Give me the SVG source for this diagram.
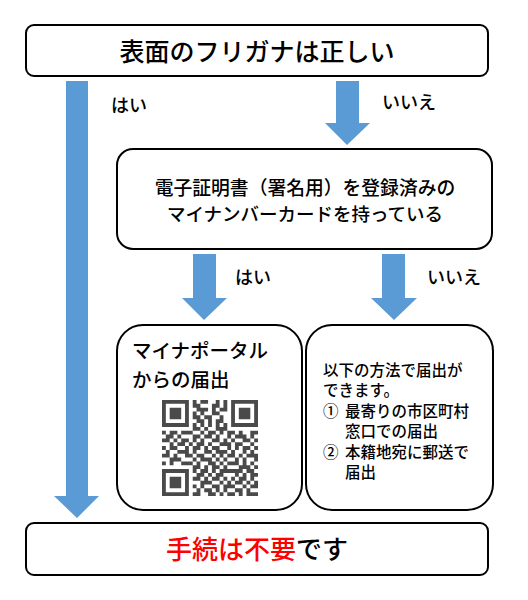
<svg xmlns="http://www.w3.org/2000/svg" width="528" height="600" viewBox="0 0 528 600">
<style>
.box{fill:#fff;stroke:#000;stroke-width:2}
.t{font-family:"Noto Sans CJK JP","Noto Sans",sans-serif;fill:#000;font-weight:500}
.arrow{fill:#5B9BD5}
</style>
<rect width="528" height="600" fill="#fff"/>
<g id="connectors">
<polygon class="arrow" points="66,81 88,81 88,496 99,496 77,518 54,496 66,496"/>
<polygon class="arrow" points="336,81 359,81 359,123 370,123 347,145 325,123 336,123"/>
<polygon class="arrow" points="193,254 216,254 216,298 227,298 204,320 182,298 193,298"/>
<polygon class="arrow" points="382,254 405,254 405,298 417,298 394,320 371,298 382,298"/>
<text class="t" x="111" y="112" font-size="18">はい</text>
<text class="t" x="382" y="109" font-size="18">いいえ</text>
<text class="t" x="235" y="284" font-size="18">はい</text>
<text class="t" x="427" y="284" font-size="18">いいえ</text>
</g>
<g id="q1">
<rect class="box" x="26" y="25" width="462" height="51" rx="8"/>
<text class="t" x="257" y="61" font-size="25" text-anchor="middle">表面のフリガナは正しい</text>
</g>
<g id="q2">
<rect class="box" x="117" y="149" width="375" height="100" rx="16"/>
<text class="t" x="305" y="195" font-size="18.8" text-anchor="middle" font-weight="bold">電子証明書（署名用）を登録済みの</text>
<text class="t" x="305" y="221" font-size="18.5" text-anchor="middle" font-weight="bold">マイナンバーカードを持っている</text>
</g>
<g id="portal">
<rect class="box" x="117" y="325" width="185" height="185" rx="26"/>
<text class="t" font-size="19.5"><tspan x="132" y="358">マイナポータル</tspan><tspan x="132" y="387">からの届出</tspan></text>
<g transform="translate(162,400) scale(3.84)" fill="#4a4a4a">
<path d="M0 0h7v1h-7zM8 0h1v1h-1zM10 0h2v1h-2zM14 0h1v1h-1zM16 0h1v1h-1zM18 0h7v1h-7z
M0 1h1v1h-1zM6 1h1v1h-1zM8 1h2v1h-2zM13 1h2v1h-2zM16 1h1v1h-1zM18 1h1v1h-1zM24 1h1v1h-1z
M0 2h1v1h-1zM2 2h3v1h-3zM6 2h1v1h-1zM9 2h3v1h-3zM13 2h1v1h-1zM15 2h2v1h-2zM18 2h1v1h-1zM20 2h3v1h-3zM24 2h1v1h-1z
M0 3h1v1h-1zM2 3h3v1h-3zM6 3h1v1h-1zM8 3h1v1h-1zM10 3h1v1h-1zM13 3h2v1h-2zM18 3h1v1h-1zM20 3h3v1h-3zM24 3h1v1h-1z
M0 4h1v1h-1zM2 4h3v1h-3zM6 4h1v1h-1zM8 4h2v1h-2zM11 4h2v1h-2zM15 4h1v1h-1zM18 4h1v1h-1zM20 4h3v1h-3zM24 4h1v1h-1z
M0 5h1v1h-1zM6 5h1v1h-1zM9 5h2v1h-2zM12 5h1v1h-1zM14 5h2v1h-2zM18 5h1v1h-1zM24 5h1v1h-1z
M0 6h7v1h-7zM8 6h1v1h-1zM10 6h1v1h-1zM12 6h1v1h-1zM14 6h1v1h-1zM16 6h1v1h-1zM18 6h7v1h-7z
M8 7h2v1h-2zM11 7h1v1h-1zM14 7h3v1h-3z
M0 8h1v1h-1zM2 8h2v1h-2zM5 8h3v1h-3zM10 8h1v1h-1zM12 8h2v1h-2zM15 8h1v1h-1zM17 8h2v1h-2zM20 8h1v1h-1zM23 8h2v1h-2z
M1 9h2v1h-2zM4 9h1v1h-1zM8 9h2v1h-2zM11 9h2v1h-2zM14 9h1v1h-1zM17 9h1v1h-1zM19 9h3v1h-3zM23 9h1v1h-1z
M0 10h2v1h-2zM3 10h1v1h-1zM5 10h2v1h-2zM8 10h1v1h-1zM10 10h1v1h-1zM13 10h2v1h-2zM16 10h1v1h-1zM18 10h1v1h-1zM21 10h2v1h-2zM24 10h1v1h-1z
M2 11h1v1h-1zM4 11h2v1h-2zM7 11h1v1h-1zM9 11h2v1h-2zM12 11h1v1h-1zM15 11h3v1h-3zM19 11h2v1h-2zM23 11h1v1h-1z
M0 12h1v1h-1zM2 12h2v1h-2zM6 12h1v1h-1zM8 12h2v1h-2zM11 12h1v1h-1zM13 12h2v1h-2zM17 12h1v1h-1zM19 12h1v1h-1zM21 12h2v1h-2zM24 12h1v1h-1z
M1 13h1v1h-1zM4 13h3v1h-3zM8 13h1v1h-1zM11 13h2v1h-2zM14 13h3v1h-3zM18 13h1v1h-1zM21 13h1v1h-1zM23 13h1v1h-1z
M0 14h2v1h-2zM3 14h1v1h-1zM6 14h2v1h-2zM9 14h2v1h-2zM13 14h1v1h-1zM15 14h1v1h-1zM17 14h2v1h-2zM20 14h1v1h-1zM22 14h3v1h-3z
M2 15h3v1h-3zM8 15h1v1h-1zM10 15h3v1h-3zM14 15h1v1h-1zM16 15h1v1h-1zM19 15h1v1h-1zM21 15h1v1h-1zM24 15h1v1h-1z
M0 16h1v1h-1zM2 16h1v1h-1zM5 16h3v1h-3zM9 16h1v1h-1zM12 16h2v1h-2zM15 16h1v1h-1zM17 16h3v1h-3zM21 16h1v1h-1zM23 16h1v1h-1z
M8 17h2v1h-2zM11 17h1v1h-1zM13 17h2v1h-2zM16 17h1v1h-1zM20 17h3v1h-3zM24 17h1v1h-1z
M0 18h7v1h-7zM8 18h1v1h-1zM10 18h2v1h-2zM13 18h1v1h-1zM15 18h6v1h-6zM22 18h2v1h-2z
M0 19h1v1h-1zM6 19h1v1h-1zM9 19h2v1h-2zM12 19h1v1h-1zM14 19h2v1h-2zM19 19h1v1h-1zM21 19h1v1h-1zM23 19h2v1h-2z
M0 20h1v1h-1zM2 20h3v1h-3zM6 20h1v1h-1zM8 20h2v1h-2zM11 20h1v1h-1zM13 20h2v1h-2zM16 20h1v1h-1zM18 20h1v1h-1zM20 20h2v1h-2zM23 20h1v1h-1z
M0 21h1v1h-1zM2 21h3v1h-3zM6 21h1v1h-1zM10 21h3v1h-3zM15 21h1v1h-1zM17 21h1v1h-1zM19 21h2v1h-2zM22 21h1v1h-1zM24 21h1v1h-1z
M0 22h1v1h-1zM2 22h3v1h-3zM6 22h1v1h-1zM8 22h1v1h-1zM10 22h1v1h-1zM13 22h2v1h-2zM16 22h3v1h-3zM21 22h1v1h-1zM23 22h2v1h-2z
M0 23h1v1h-1zM6 23h1v1h-1zM9 23h1v1h-1zM11 23h2v1h-2zM14 23h1v1h-1zM16 23h1v1h-1zM19 23h2v1h-2zM22 23h1v1h-1z
M0 24h7v1h-7zM8 24h2v1h-2zM12 24h2v1h-2zM15 24h1v1h-1zM17 24h2v1h-2zM20 24h1v1h-1zM22 24h3v1h-3z"/>
</g>
</g>
<g id="other">
<rect class="box" x="306" y="325" width="187" height="185" rx="26"/>
<text class="t" font-size="15.5" font-weight="bold">
<tspan x="323" y="376">以下の方法で届出が</tspan>
<tspan x="323" y="396">できます。</tspan>
<tspan x="323" y="417">①</tspan><tspan x="345" y="417">最寄りの市区町村</tspan>
<tspan x="345" y="437">窓口での届出</tspan>
<tspan x="323" y="458">②</tspan><tspan x="345" y="458">本籍地宛に郵送で</tspan>
<tspan x="345" y="478">届出</tspan>
</text>
</g>
<g id="result">
<rect class="box" x="26" y="523" width="462" height="52" rx="8"/>
<text class="t" x="257" y="559" font-size="26" text-anchor="middle"><tspan fill="#FF0000">手続は不要</tspan>です</text>
</g>
</svg>
